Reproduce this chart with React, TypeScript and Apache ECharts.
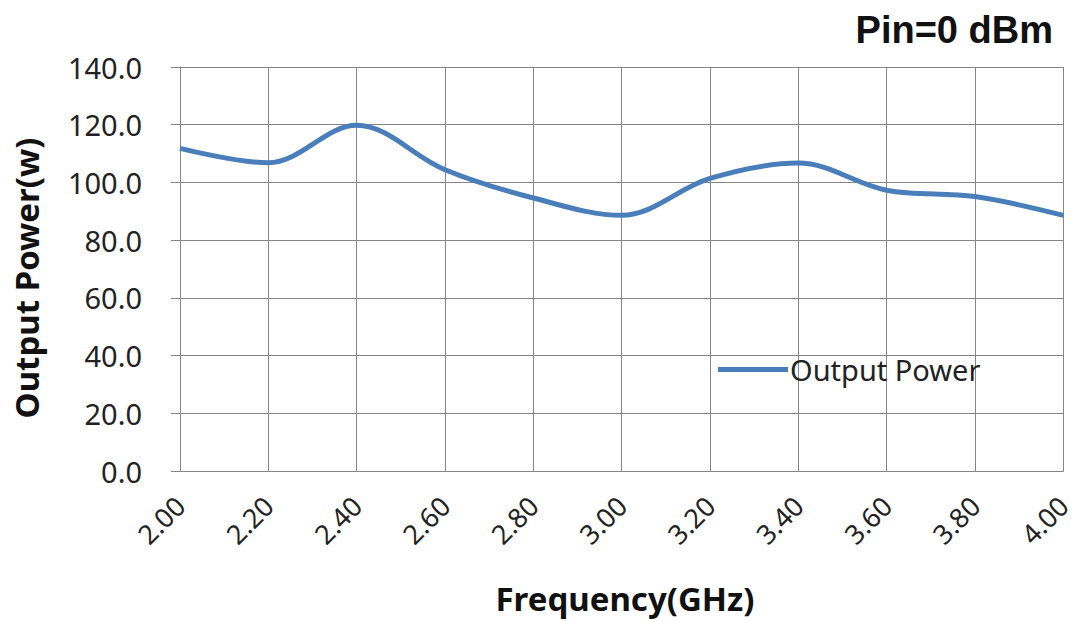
import React, { useEffect, useRef } from "react";
import * as echarts from "echarts";

const categories = ["2.00", "2.20", "2.40", "2.60", "2.80", "3.00", "3.20", "3.40", "3.60", "3.80", "4.00"];
const outputPower = [111.8, 106.8, 119.8, 104.4, 94.6, 88.6, 101.4, 106.7, 97.3, 95.1, 88.6];
const yTicks = [0, 20, 40, 60, 80, 100, 120, 140];
const seriesName = "Output Power";
const yTitle = "Output Power(w)";
const xTitle = "Frequency(GHz)";
const noteText = "Pin=0 dBm";

export default function App() {
  const ref = useRef<HTMLDivElement>(null);
  useEffect(() => {
    const chart = echarts.init(ref.current!, null, { renderer: "svg" });
    chart.setOption({
      animation: false,
      backgroundColor: "#ffffff",
      grid: { left: 180, right: 5, top: 67, bottom: 150, containLabel: false },
      legend: {
        left: 713,
        top: 350,
        icon: "rect",
        itemWidth: 70,
        itemHeight: 5,
        itemGap: 0,
        textStyle: { fontFamily: "Noto Sans", fontSize: 29, color: "#222", padding: [0, 0, 0, -3] },
        data: [seriesName],
      },
      graphic: [
        {
          type: "text",
          right: 22,
          top: 11,
          style: {
            text: noteText,
            fontFamily: "Liberation Sans",
            fontSize: 38,
            fontWeight: "bold",
            fill: "#111",
          },
        },
        {
          type: "text",
          x: 625,
          y: 598,
          style: {
            text: xTitle,
            fontFamily: "Noto Sans",
            fontSize: 33,
            fontWeight: "bold",
            fill: "#111",
            align: "center",
            verticalAlign: "middle",
          },
        },
        {
          type: "text",
          x: 26,
          y: 278,
          rotation: Math.PI / 2,
          style: {
            text: yTitle,
            fontFamily: "Noto Sans",
            fontSize: 33,
            fontWeight: "bold",
            fill: "#111",
            align: "center",
            verticalAlign: "middle",
          },
        },
      ],
      xAxis: {
        type: "category",
        data: categories,
        boundaryGap: false,
        axisLine: { lineStyle: { color: "#868686", width: 1 } },
        axisTick: { show: false },
        axisLabel: {
          rotate: 45,
          margin: 30,
          fontFamily: "Noto Sans",
          fontSize: 27,
          color: "#222",
        },
        splitLine: { show: true, lineStyle: { color: "#868686", width: 1 } },
      },
      yAxis: {
        type: "value",
        min: yTicks[0],
        max: yTicks[yTicks.length - 1],
        interval: yTicks[1] - yTicks[0],
        axisLine: { show: true, lineStyle: { color: "#868686", width: 1 } },
        axisTick: { show: true, length: 9, lineStyle: { color: "#868686" } },
        axisLabel: {
          formatter: (v: number) => v.toFixed(1),
          margin: 38,
          fontFamily: "Noto Sans",
          fontSize: 29,
          color: "#222",
        },
        splitLine: { show: true, lineStyle: { color: "#868686", width: 1 } },
      },
      series: [
        {
          name: seriesName,
          type: "line",
          data: outputPower,
          smooth: 0.35,
          symbol: "none",
          lineStyle: { color: "#4a7ebb", width: 5 },
          itemStyle: { color: "#4a7ebb" },
        },
      ],
    });
    return () => chart.dispose();
  }, []);
  return <div ref={ref} style={{ width: 1075, height: 621, position: "absolute", left: 0, top: 0 }} />;
}
